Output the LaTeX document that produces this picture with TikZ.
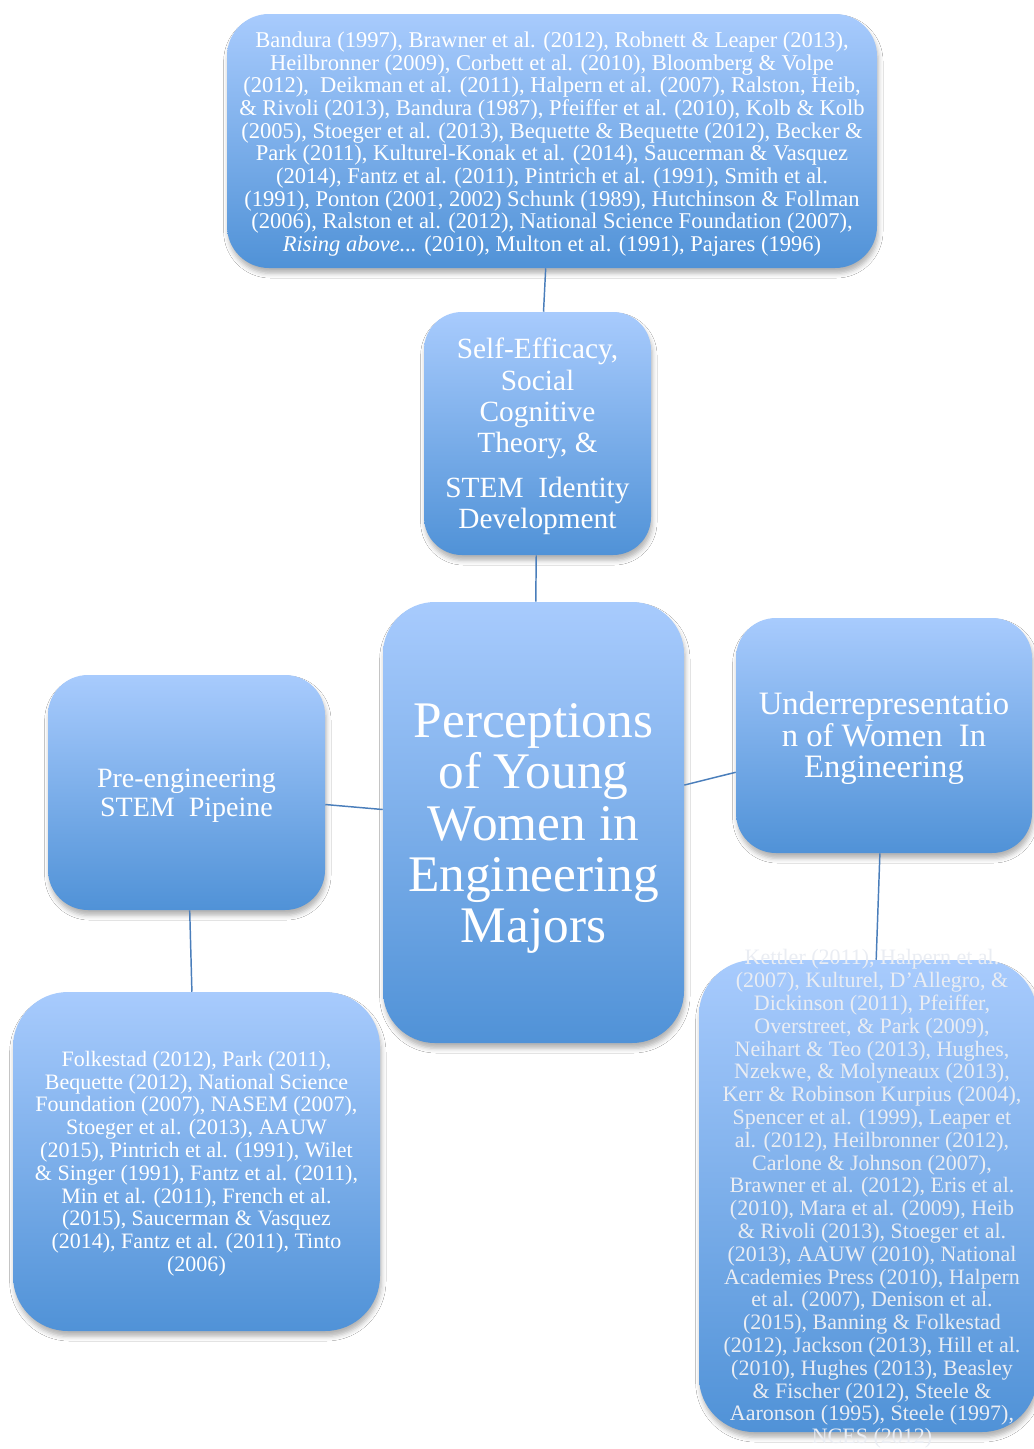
\documentclass[tikz,border=0pt]{standalone}
\usepackage{fontspec}
\setmainfont{Liberation Serif}
\usetikzlibrary{shadows.blur}
\definecolor{gtop}{RGB}{168,203,253}
\definecolor{gbot}{RGB}{80,146,215}
\definecolor{lnk}{RGB}{74,126,187}
\definecolor{brtxt}{RGB}{234,237,243}
\tikzset{
  box/.style={rectangle, inner sep=0pt, top color=gtop, bottom color=gbot, draw=none,
    blur shadow={shadow xshift=1pt, shadow yshift=-4pt, shadow blur radius=3.5pt, shadow opacity=30}},
  txt/.style={text=white, align=center, inner sep=0pt},
  link/.style={draw=lnk, line width=1.1pt},
  reftext/.style={font=\fontsize{16.5}{17.1}\selectfont},
}
\begin{document}
\begin{tikzpicture}[x=0.75pt,y=-0.75pt]
\useasboundingbox (0,0) rectangle (1034,1449);
\fill[white] (0,0) rectangle (1034,1449);

% boxes
\node[box, minimum width=487.5pt, minimum height=190.5pt, rounded corners=31.5pt] (top) at (552,141) {};
\node[box, minimum width=170.25pt, minimum height=182.25pt, rounded corners=28.5pt] (self) at (537.5,433.5) {};
\node[box, minimum width=225.75pt, minimum height=330.75pt, rounded corners=39pt] (cen) at (533.5,822.5) {};
\node[box, minimum width=207.75pt, minimum height=176.25pt, rounded corners=30pt] (left) at (186.5,792.5) {};
\node[box, minimum width=222pt, minimum height=176.25pt, rounded corners=30pt] (right) at (884,735.5) {};
\node[box, minimum width=275.25pt, minimum height=254.25pt, rounded corners=41.25pt] (bl) at (196.5,1161.5) {};
\node[box, minimum width=253.5pt, minimum height=354pt, rounded corners=41.25pt] (brbox) at (868,1196) {};

% texts
\node[txt, font=\fontsize{16.9}{17}\selectfont] (toptext) at (552,144)
{Bandura (1997), Brawner et al. (2012), Robnett \& Leaper (2013),\\
Heilbronner (2009), Corbett et al. (2010), Bloomberg \& Volpe\\
(2012),~ Deikman et al. (2011), Halpern et al. (2007), Ralston, Heib,\\
\& Rivoli (2013), Bandura (1987), Pfeiffer et al. (2010), Kolb \& Kolb\\
(2005), Stoeger et al. (2013), Bequette \& Bequette (2012), Becker \&\\
Park (2011), Kulturel-Konak et al. (2014), Saucerman \& Vasquez\\
(2014), Fantz et al. (2011), Pintrich et al. (1991), Smith et al.\\
(1991), Ponton (2001, 2002) Schunk (1989), Hutchinson \& Follman\\
(2006), Ralston et al. (2012), National Science Foundation (2007),\\
\textit{Rising above...} (2010), Multon et al. (1991), Pajares (1996)};

\node[txt, font=\fontsize{22}{23.5}\selectfont] (selftext) at (537.5,436.5)
{Self-Efficacy,\\ Social\\ Cognitive\\ Theory, \&\\[10pt] STEM~ Identity\\ Development};

\node[txt, font=\fontsize{38.5}{38.5}\selectfont] (centext) at (533.5,828.5)
{Perceptions\\ of Young\\ Women in\\ Engineering\\ Majors};

\node[txt, font=\fontsize{21}{22}\selectfont] (lefttext) at (186.5,795.5)
{Pre-engineering\\ STEM~ Pipeine};

\node[txt, font=\fontsize{24.5}{23.5}\selectfont] (righttext) at (884,738.5)
{Underrepresentatio\\ n of Women~ In\\ Engineering};

\node[txt, reftext] (bltext) at (196.5,1163.5)
{Folkestad (2012), Park (2011),\\
Bequette (2012), National Science\\
Foundation (2007), NASEM (2007),\\
Stoeger et al. (2013), AAUW\\
(2015), Pintrich et al. (1991), Wilet\\
\& Singer (1991), Fantz et al. (2011),\\
Min et al. (2011), French et al.\\
(2015), Saucerman \& Vasquez\\
(2014), Fantz et al. (2011), Tinto\\
(2006)};

\node[txt, reftext, text=brtxt] (brtext) at (872,1199)
{Kettler (2011), Halpern et al.\\
(2007), Kulturel, D'Allegro, \&\\
Dickinson (2011), Pfeiffer,\\
Overstreet, \& Park (2009),\\
Neihart \& Teo (2013), Hughes,\\
Nzekwe, \& Molyneaux (2013),\\
Kerr \& Robinson Kurpius (2004),\\
Spencer et al. (1999), Leaper et\\
al. (2012), Heilbronner (2012),\\
Carlone \& Johnson (2007),\\
Brawner et al. (2012), Eris et al.\\
(2010), Mara et al. (2009), Heib\\
\& Rivoli (2013), Stoeger et al.\\
(2013), AAUW (2010), National\\
Academies Press (2010), Halpern\\
et al. (2007), Denison et al.\\
(2015), Banning \& Folkestad\\
(2012), Jackson (2013), Hill et al.\\
(2010), Hughes (2013), Beasley\\
\& Fischer (2012), Steele \&\\
Aaronson (1995), Steele (1997),\\
NCES (2012)};

% connectors
\draw[link] (top) -- (self);
\draw[link] (self) -- (cen);
\draw[link] (left) -- (cen);
\draw[link] (cen) -- (right);
\draw[link] (left) -- (bl);
\draw[link] (right) -- (brbox);
\end{tikzpicture}
\end{document}
